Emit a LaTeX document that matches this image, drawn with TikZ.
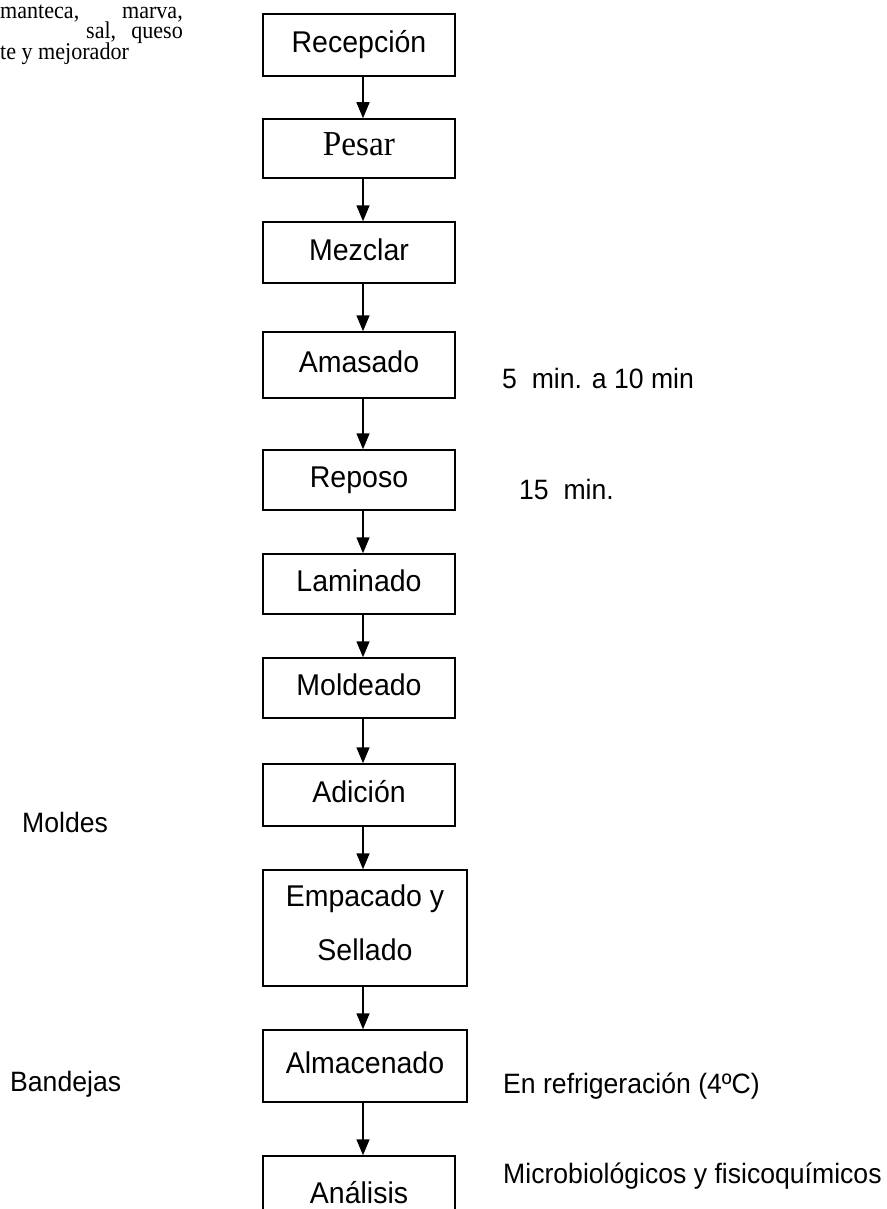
\documentclass[tikz,border=0pt]{standalone}
\usepackage{fontspec}
\setmainfont{Liberation Sans}[FakeStretch=0.95]
\newfontfamily\tnr{Liberation Serif}[FakeStretch=0.95]
\newfontfamily\tnrt{Liberation Serif}[FakeStretch=0.92]
\usetikzlibrary{arrows.meta}
\tikzset{
  stepbox/.style={draw=black, line width=1.5pt, rectangle, inner sep=0pt,
    minimum width=192pt, font=\fontsize{30}{36}\selectfont,
    text height=21pt, text depth=6pt},
  flow/.style={line width=1.5pt, -{Triangle[length=16pt,width=13pt]}},
  side/.style={anchor=base west, inner sep=0pt, font=\fontsize{28}{34}\selectfont},
  topt/.style={inner sep=0pt, font=\tnrt\fontsize{24}{28}\selectfont,
    text height=13pt, text depth=3pt}
}
\begin{document}
\begin{tikzpicture}[x=1pt,y=-1pt]
\clip (0,0) rectangle (886,1209);
\fill[white] (0,0) rectangle (886,1209);
% top-left partial text
\node[topt, anchor=base west] (t1a) at (0,19) {manteca,};
\node[topt, anchor=base east] (t1b) at (183,19) {marva,};
\node[topt, anchor=base west] (t2a) at (86,39) {sal,};
\node[topt, anchor=base east] (t2b) at (183,39) {queso};
\node[topt, anchor=base west] (t3a) at (0,60) {te y mejorador};
% boxes
\node[stepbox, minimum height=62pt] (rec) at (359,45) {Recepción};
\node[stepbox, minimum height=59pt, font=\tnr\fontsize{35}{40}\selectfont] (pes) at (359,148.5) {Pesar};
\node[stepbox, minimum height=61pt] (mez) at (359,252.5) {Mezclar};
\node[stepbox, minimum height=66pt] (ama) at (359,365) {Amasado};
\node[stepbox, minimum height=60pt] (rep) at (359,480) {Reposo};
\node[stepbox, minimum height=60pt] (lam) at (359,584) {Laminado};
\node[stepbox, minimum height=60pt] (mol) at (359,688) {Moldeado};
\node[stepbox, minimum height=62pt] (adi) at (359,795) {Adición};
\node[stepbox, minimum height=116pt, minimum width=204pt] (emp) at (365,928) {};
\node[inner sep=0pt, align=center, font=\fontsize{30}{54}\selectfont, anchor=base] (empT) at (365,960) {Empacado y\\Sellado};
\node[stepbox, minimum height=72pt, minimum width=204pt] (alm) at (365,1066) {Almacenado};
\node[stepbox, minimum height=80pt] (ana) at (359,1196) {Análisis};
% arrows
\coordinate (ax) at (363,0);
\draw[flow] (rec.south -| ax) -- (pes.north -| ax);
\draw[flow] (pes.south -| ax) -- (mez.north -| ax);
\draw[flow] (mez.south -| ax) -- (ama.north -| ax);
\draw[flow] (ama.south -| ax) -- (rep.north -| ax);
\draw[flow] (rep.south -| ax) -- (lam.north -| ax);
\draw[flow] (lam.south -| ax) -- (mol.north -| ax);
\draw[flow] (mol.south -| ax) -- (adi.north -| ax);
\draw[flow] (adi.south -| ax) -- (emp.north -| ax);
\draw[flow] (emp.south -| ax) -- (alm.north -| ax);
\draw[flow] (alm.south -| ax) -- (ana.north -| ax);
% side labels
\node[side] (s1) at (502,388) {5~~min. a 10 min};
\node[side] (s2) at (519,499) {15~~min.};
\node[side] (s3) at (22,832) {Moldes};
\node[side] (s4) at (10,1091) {Bandejas};
\node[side] (s5) at (503,1093) {En refrigeración (4ºC)};
\node[side] (s6) at (503,1183) {Microbiológicos y fisicoquímicos};
\end{tikzpicture}
\end{document}
